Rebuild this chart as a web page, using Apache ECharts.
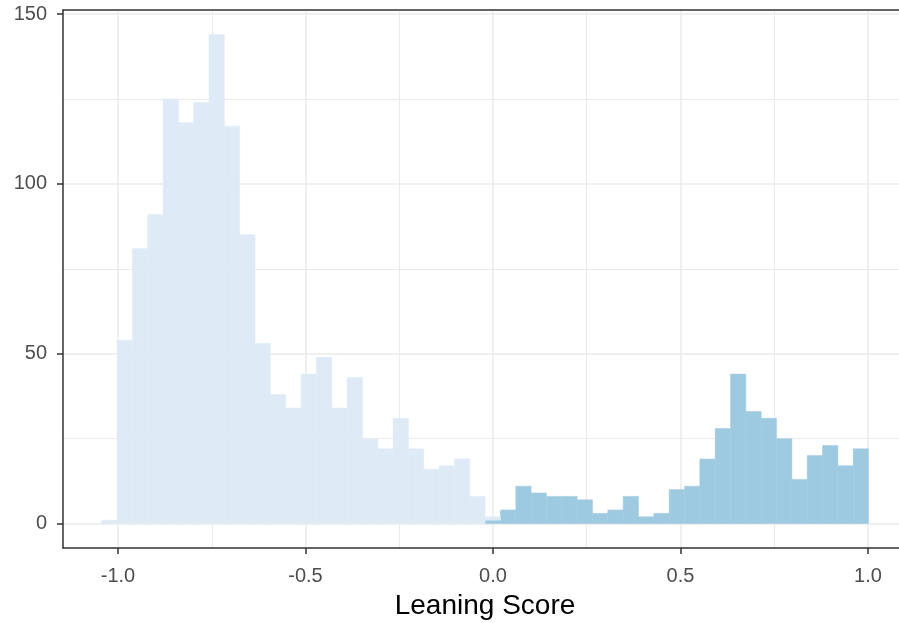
<!DOCTYPE html>
<html>
<head>
<meta charset="utf-8">
<script src="https://cdn.jsdelivr.net/npm/echarts@6/dist/echarts.min.js"></script>
<style>
  html, body { margin: 0; padding: 0; background: #fff; }
  #chart { width: 899px; height: 623px; }
</style>
</head>
<body>
<div id="chart"></div>
<script>
// histogram bins (50 equal bins)
const binStart = -1.0435;
const binWidth = 0.0409;

// counts for negative leaning (bins 0..25) and positive leaning (bins 25..49)
const leftCounts = [1, 54, 81, 91, 125, 118, 124, 144, 117, 85, 53, 38, 34, 44, 49, 34, 43, 25, 22, 31, 22, 16, 17, 19, 8, 1];
const leftFirstBin = 0;
const rightCounts = [1, 4, 11, 9, 8, 8, 7, 3, 4, 8, 2, 3, 10, 11, 19, 28, 44, 33, 31, 25, 13, 20, 23, 17, 22];
const rightFirstBin = 25;

const xMajor = [-1, -0.5, 0, 0.5, 1];
const xMinor = [-0.75, -0.25, 0.25, 0.75];
const yMajor = [0, 50, 100, 150];
const yMinor = [25, 75, 125];

const lightFill = '#DEEBF7';
const darkFill = '#9ECAE1';
const axisColor = '#333333';
const gridColor = '#EBEBEB';
const font = 'Liberation Sans, Arial, sans-serif';

// dark bars sit at the bottom of the stack, light ones on top
const darkByBin = {};
const darkData = rightCounts.map((c, i) => {
  const b = rightFirstBin + i;
  darkByBin[b] = c;
  const x0 = binStart + b * binWidth;
  return [x0, x0 + binWidth, 0, c];
});
const lightData = leftCounts.map((c, i) => {
  const b = leftFirstBin + i;
  const base = darkByBin[b] || 0;
  const x0 = binStart + b * binWidth;
  return [x0, x0 + binWidth, base, base + c];
});

function barRenderer(fill) {
  return function (params, api) {
    const p0 = api.coord([api.value(0), api.value(3)]);
    const p1 = api.coord([api.value(1), api.value(2)]);
    return {
      type: 'rect',
      shape: { x: p0[0], y: p0[1], width: p1[0] - p0[0], height: p1[1] - p0[1] },
      style: { fill: fill, stroke: fill, lineWidth: 0.5 }
    };
  };
}

const chart = echarts.init(document.getElementById('chart'));

// panel runs past the right edge of the picture, so the visible max is cut there
const xMin = -1.1467, xMax = 1.0827;
const yMin = -7.2, yMax = 151.2;

chart.setOption({
  animation: false,
  backgroundColor: '#fff',
  grid: { left: 63, right: 0, top: 10, bottom: 75, outerBoundsMode: 'none' },
  xAxis: [
    {
      type: 'value', min: xMin, max: xMax, position: 'bottom',
      axisLine: { show: true, onZero: false, lineStyle: { color: axisColor, width: 1.5 } },
      axisTick: { show: true, length: 6, customValues: xMajor, lineStyle: { color: axisColor, width: 1.5 } },
      axisLabel: {
        customValues: xMajor, color: '#4D4D4D', fontSize: 20, fontFamily: font, margin: 18,
        formatter: v => v.toFixed(1)
      },
      splitLine: { show: true, lineStyle: { color: gridColor, width: 1.5 } },
      name: 'Leaning Score', nameLocation: 'middle', nameGap: 44,
      nameTextStyle: { color: '#000', fontSize: 28, fontFamily: font, padding: [0, 0, 0, 8] }
    },
    {
      type: 'value', min: xMin, max: xMax, position: 'top',
      axisLine: { show: true, onZero: false, lineStyle: { color: axisColor, width: 1.5 } },
      axisTick: { show: false, customValues: xMinor },
      axisLabel: { show: false },
      splitLine: { show: true, lineStyle: { color: gridColor, width: 1 } }
    }
  ],
  yAxis: [
    {
      type: 'value', min: yMin, max: yMax, position: 'left',
      axisLine: { show: true, onZero: false, lineStyle: { color: axisColor, width: 1.5 } },
      axisTick: { show: true, length: 6, customValues: yMajor, lineStyle: { color: axisColor, width: 1.5 } },
      axisLabel: { customValues: yMajor, color: '#4D4D4D', fontSize: 20, fontFamily: font, margin: 16 },
      splitLine: { show: true, lineStyle: { color: gridColor, width: 1.5 } }
    },
    {
      type: 'value', min: yMin, max: yMax, position: 'left',
      axisLine: { show: false },
      axisTick: { show: false, customValues: yMinor },
      axisLabel: { show: false },
      splitLine: { show: true, lineStyle: { color: gridColor, width: 1 } }
    }
  ],
  series: [
    {
      name: 'positive', type: 'custom', xAxisIndex: 0, yAxisIndex: 0,
      renderItem: barRenderer(darkFill),
      encode: { x: [0, 1], y: [2, 3] },
      data: darkData
    },
    {
      name: 'negative', type: 'custom', xAxisIndex: 0, yAxisIndex: 0,
      renderItem: barRenderer(lightFill),
      encode: { x: [0, 1], y: [2, 3] },
      data: lightData
    }
  ]
});
</script>
</body>
</html>
